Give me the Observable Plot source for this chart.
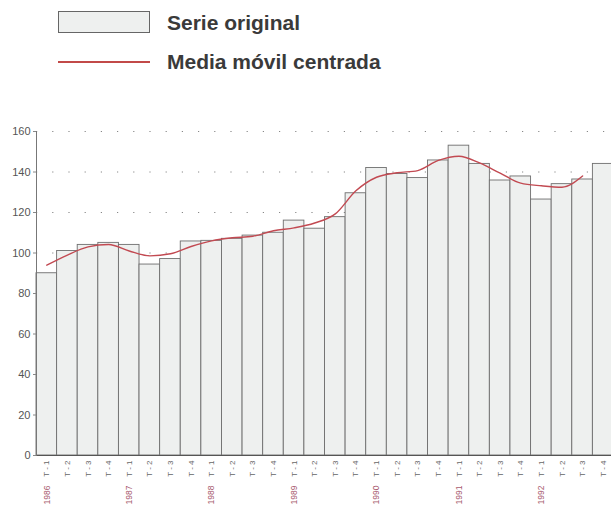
<!DOCTYPE html>
<html>
<head>
<meta charset="utf-8">
<script src="https://cdn.jsdelivr.net/npm/d3@7"></script>
<script src="https://cdn.jsdelivr.net/npm/@observablehq/plot@0.6"></script>
<style>
  html, body { margin: 0; padding: 0; background: #fff; overflow: hidden; width: 611px; height: 508px; }
  body { position: relative; font-family: "Liberation Sans", Arial, Helvetica, sans-serif; }
  #legend { position: absolute; left: 0; top: 0; width: 611px; height: 100px; }
  #chart { position: absolute; left: 0; top: 100px; width: 613px; }
  #chart svg { max-width: none !important; }
</style>
</head>
<body>
<svg id="legend" width="611" height="100">
  <rect x="58.5" y="11.5" width="91" height="21" fill="#eef0ef" stroke="#666" stroke-width="1"/>
  <text x="167" y="30" font-size="21" font-weight="bold" fill="#3a3a3a" font-family="Liberation Sans, Arial, sans-serif">Serie original</text>
  <line x1="58" x2="150" y1="62" y2="62" stroke="#c24a48" stroke-width="2"/>
  <text x="167" y="69" font-size="21" font-weight="bold" fill="#3a3a3a" font-family="Liberation Sans, Arial, sans-serif">Media móvil centrada</text>
</svg>
<div id="chart"></div>
<script>
const years = [1986, 1987, 1988, 1989, 1990, 1991, 1992];
const quarters = ["T - 1", "T - 2", "T - 3", "T - 4"];
const serie = [
  90, 101, 104, 105,
  104, 94.3, 97, 105.7,
  106, 107, 108.6, 110,
  116, 112, 117.7, 129.5,
  142, 139, 137, 145.7,
  153, 144, 135.8, 137.8,
  126.4, 134, 136.3, 144
];
const media = [
  94, 99, 103, 104.2,
  101, 98.6, 99.6, 103.2,
  106, 107.5, 108.3, 111,
  112.4, 114.8, 119.3, 130.7,
  137.4, 139.6, 140.7, 145.7,
  147.8, 144.5, 139.4, 134.5,
  133.2, 132.5, 138
];
const yTicks = [0, 20, 40, 60, 80, 100, 120, 140, 160];

const keys = [];
years.forEach(y => quarters.forEach(q => keys.push(y + "|" + q)));
const barData = serie.map((v, i) => ({key: keys[i], value: v}));
const lineData = media.map((v, i) => ({key: keys[i], value: v}));
const yearKeys = keys.filter(k => k.endsWith(quarters[0]));

const chart = Plot.plot({
  width: 613,
  height: 408,
  marginLeft: 36,
  marginRight: 0,
  marginTop: 31,
  marginBottom: 53,
  style: {fontFamily: "Liberation Sans, Arial, sans-serif", background: "transparent"},
  x: {domain: keys, padding: 0, round: false, axis: null},
  y: {domain: [0, 160], axis: null},
  marks: [
    Plot.gridY(yTicks.slice(1), {stroke: "#888", strokeOpacity: 1, strokeDasharray: "1.2,15", strokeWidth: 1}),
    Plot.barY(barData, {x: "key", y: "value", fill: "#eef0ef", stroke: "#6e6e6e", strokeWidth: 0.9}),
    Plot.ruleY([0], {stroke: "#555", strokeWidth: 1.2}),
    Plot.frame({anchor: "left", stroke: "#777", strokeWidth: 1}),
    Plot.axisY({ticks: yTicks, tickSize: 3, tickPadding: 3, fontSize: 11, fill: "#555", stroke: "#888", label: null}),
    Plot.lineY(lineData, {x: "key", y: "value", stroke: "#c24a52", strokeWidth: 1.4, curve: "monotone-x"}),
    Plot.axisX({tickRotate: -90, tickSize: 0, tickPadding: 5, fontSize: 8, fill: "#666", label: null,
      tickFormat: d => d.split("|")[1]}),
    Plot.axisX(yearKeys, {tickRotate: -90, tickSize: 0, tickPadding: 30, fontSize: 8.5, fill: "#a85a6e", label: null,
      tickFormat: d => d.split("|")[0]})
  ]
});
document.getElementById("chart").appendChild(chart);
</script>
</body>
</html>
